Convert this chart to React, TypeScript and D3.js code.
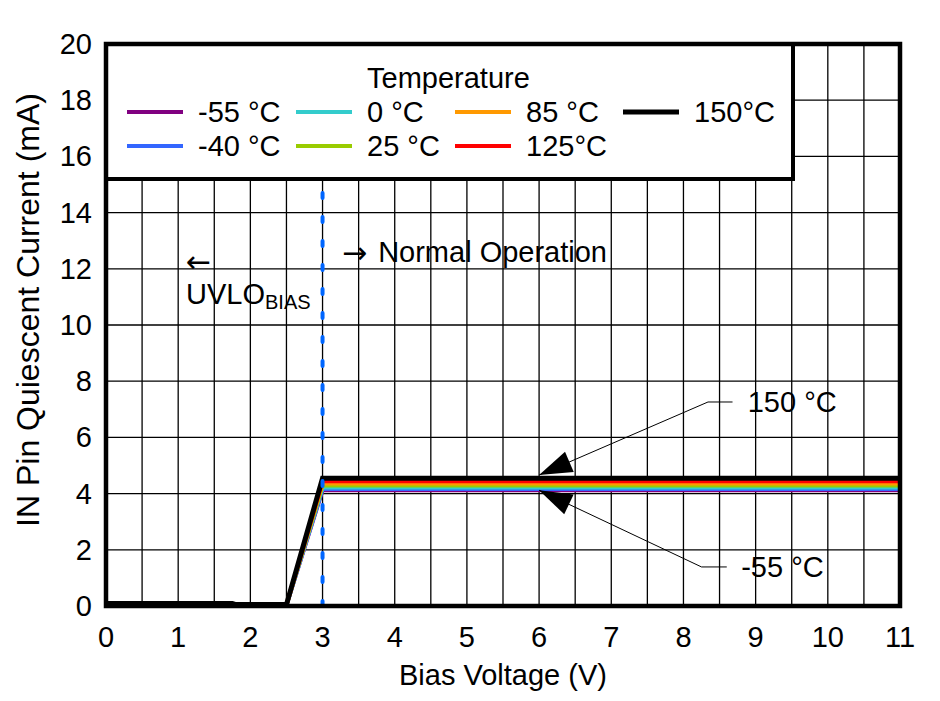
import React from "react";
import * as d3 from "d3";

const W = 940;
const H = 701;

// Bias voltage breakpoints (V)
const biasVoltage = [0, 1.75, 1.8, 2.5, 3.0, 11];

const temperatureLabels = ["-55 °C", "-40 °C", "0 °C", "25 °C", "85 °C", "125°C", "150°C"];
const seriesColors = ["#800080", "#3366ff", "#33cccc", "#99cc00", "#ff9900", "#ff0000", "#000000"];

const currentM55 = [0.06, 0.06, 0.03, 0.03, 4.12, 4.12];
const currentM40 = [0.06, 0.06, 0.03, 0.03, 4.16, 4.16];
const current0 = [0.06, 0.06, 0.03, 0.03, 4.22, 4.22];
const current25 = [0.07, 0.07, 0.04, 0.04, 4.29, 4.29];
const current85 = [0.07, 0.07, 0.04, 0.04, 4.36, 4.36];
const current125 = [0.08, 0.08, 0.04, 0.04, 4.44, 4.44];
const current150 = [0.09, 0.09, 0.05, 0.05, 4.55, 4.55];

const seriesValues = [currentM55, currentM40, current0, current25, current85, current125, current150];

const xTicks = [0, 1, 2, 3, 4, 5, 6, 7, 8, 9, 10, 11];
const yTicks = [0, 2, 4, 6, 8, 10, 12, 14, 16, 18, 20];
const xGrid = d3.range(0, 11.01, 0.5);

const uvloVoltage = 3.0;
const uvloTop = 15.0;

export default function App() {
  const left = 106, right = 900, top = 44, bottom = 606;
  const x = d3.scaleLinear().domain([0, 11]).range([left, right]);
  const y = d3.scaleLinear().domain([0, 20]).range([bottom, top]);
  const font = "Arial, 'Liberation Sans', sans-serif";
  const fs = 29;

  const line = d3
    .line<number>()
    .x((_, i) => x(biasVoltage[i]))
    .y((d) => y(d));

  // annotation geometry in data units
  const annots = [
    { label: "150 °C", tip: [6.0, 4.66], elbow: [8.34, 7.26], end: [8.68, 7.26], tx: 8.89, ty: 6.92 },
    { label: "-55 °C", tip: [6.0, 4.12], elbow: [8.25, 1.39], end: [8.6, 1.39], tx: 8.8, ty: 1.02 },
  ];

  const arrowHead = (tip: number[], from: number[]) => {
    const tx = x(tip[0]), ty = y(tip[1]);
    const fx = x(from[0]), fy = y(from[1]);
    const a = Math.atan2(fy - ty, fx - tx);
    const L = 33, hw = 11;
    const bx = tx + L * Math.cos(a), by = ty + L * Math.sin(a);
    const px = -Math.sin(a) * hw, py = Math.cos(a) * hw;
    return `M${tx},${ty}L${bx + px},${by + py}L${bx - px},${by - py}Z`;
  };

  const legendCols = [127, 296, 455, 623];
  const legendRows = [112, 146];
  const legendOrder = [
    [0, 0, 0], [1, 0, 1], [2, 1, 0], [3, 1, 1], [4, 2, 0], [5, 2, 1], [6, 3, 0],
  ];

  return (
    <svg width={W} height={H} style={{ position: "absolute", left: 0, top: 0, background: "#fff" }} fontFamily={font}>
      <rect x={0} y={0} width={W} height={H} fill="#fff" />
      {/* grid */}
      {xGrid.map((v) => (
        <line key={"gx" + v} x1={x(v)} x2={x(v)} y1={top} y2={bottom} stroke="#000" strokeWidth={1.3} />
      ))}
      {yTicks.map((v) => (
        <line key={"gy" + v} x1={left} x2={right} y1={y(v)} y2={y(v)} stroke="#000" strokeWidth={1.3} />
      ))}

      {/* legend box */}
      <rect x={left} y={top} width={793 - left} height={179 - top} fill="#fff" stroke="#000" strokeWidth={4} />
      <text x={367} y={88} fontSize={fs}>Temperature</text>
      {legendOrder.map(([i, c, r]) => (
        <g key={"lg" + i}>
          <line x1={legendCols[c]} x2={legendCols[c] + 56} y1={legendRows[r]} y2={legendRows[r]} stroke={seriesColors[i]} strokeWidth={i === 6 ? 5 : 4} />
          <text x={legendCols[c] + 71} y={legendRows[r] + 10} fontSize={fs}>{temperatureLabels[i]}</text>
        </g>
      ))}

      {/* series */}
      {seriesValues.map((vals, i) => (
        <path key={"s" + i} d={line(vals) || ""} fill="none" stroke={seriesColors[i]} strokeWidth={i === 6 ? 5 : 4} strokeLinejoin="miter" />
      ))}

      {/* UVLO dashed line */}
      <line x1={x(uvloVoltage)} x2={x(uvloVoltage)} y1={y(0)} y2={y(uvloTop)} stroke="#0066ff" strokeWidth={4} strokeDasharray="5 19" strokeLinecap="round" />

      {/* region labels */}
      <text x={342} y={263} fontSize={30} fontFamily="'DejaVu Sans', sans-serif">→</text>
      <text x={x(3.77)} y={262} fontSize={fs}>Normal Operation</text>
      <text x={186} y={272} fontSize={30} fontFamily="'DejaVu Sans', sans-serif">←</text>
      <text x={186} y={304} fontSize={fs}>
        UVLO<tspan fontSize={20} dy={5}>BIAS</tspan>
      </text>

      {/* annotations */}
      {annots.map((a) => (
        <g key={a.label}>
          <path
            d={`M${x(a.end[0])},${y(a.end[1])}L${x(a.elbow[0])},${y(a.elbow[1])}L${x(a.tip[0])},${y(a.tip[1])}`}
            fill="none"
            stroke="#000"
            strokeWidth={1}
          />
          <path d={arrowHead(a.tip, a.elbow)} fill="#000" />
          <text x={x(a.tx)} y={y(a.ty)} fontSize={fs}>{a.label}</text>
        </g>
      ))}

      {/* frame */}
      <rect x={left} y={top} width={right - left} height={bottom - top} fill="none" stroke="#000" strokeWidth={4.5} />

      {/* axes labels */}
      {xTicks.map((v) => (
        <text key={"xt" + v} x={x(v)} y={647} fontSize={fs} textAnchor="middle">{v}</text>
      ))}
      {yTicks.map((v) => (
        <text key={"yt" + v} x={92} y={y(v) + 10} fontSize={fs} textAnchor="end">{v}</text>
      ))}
      <text x={503} y={685} fontSize={fs} textAnchor="middle">Bias Voltage (V)</text>
      <text transform={`translate(39,310) rotate(-90)`} fontSize={32} textAnchor="middle">IN Pin Quiescent Current (mA)</text>
    </svg>
  );
}
